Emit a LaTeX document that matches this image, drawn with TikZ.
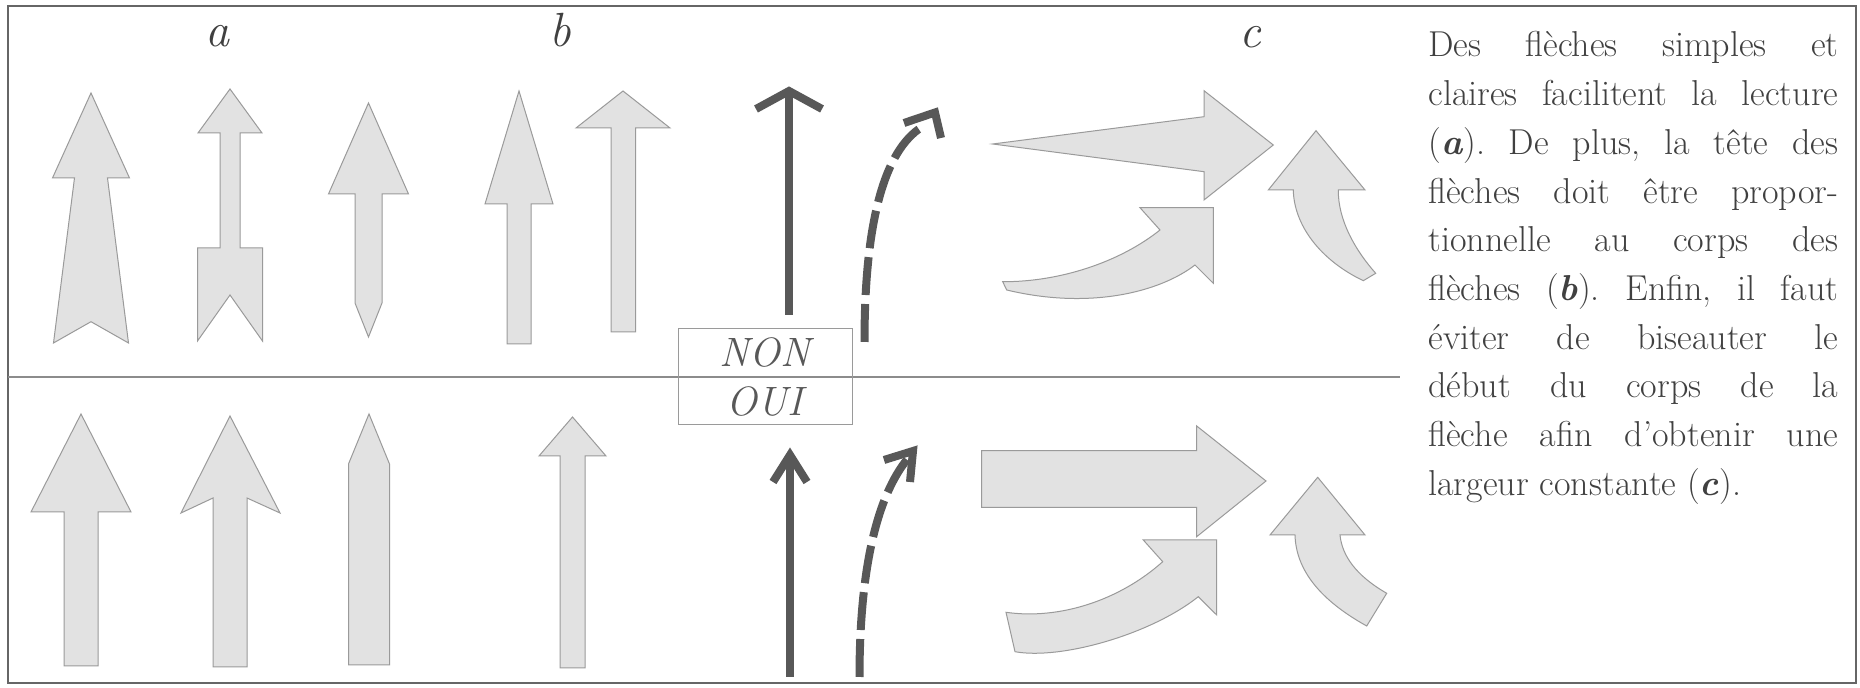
\documentclass[tikz,border=0pt]{standalone}
\usepackage{fontspec}
\definecolor{framegray}{HTML}{666666}
\definecolor{rulegray}{HTML}{8C8C8C}
\definecolor{shapefill}{HTML}{E2E2E2}
\definecolor{shapeline}{HTML}{9A9A9A}
\definecolor{inkdark}{HTML}{585858}
\definecolor{textgray}{HTML}{404040}
\newcommand\mybody{\fontsize{18}{24}\selectfont\frenchspacing}
\newcommand\mylabel{\fontsize{24}{28}\selectfont\itshape}
\newcommand\mytag{\fontsize{20.5}{24}\selectfont\itshape}
\begin{document}
\begin{tikzpicture}[x=0.5pt,y=-0.5pt,
  shp/.style={fill=shapefill,draw=shapeline,line width=0.5pt,line join=miter},
  darkln/.style={draw=inkdark,line width=4pt,line cap=butt},
  darkhead/.style={draw=inkdark,line width=4pt,line cap=butt,line join=miter},
  darkdash/.style={draw=inkdark,line width=4pt,line cap=butt,dash pattern=on 19pt off 4.5pt},
  lab/.style={anchor=base,inner sep=0pt,text=textgray,font=\mylabel},
  tag/.style={anchor=base,inner sep=0pt,text=inkdark,font=\mytag},
  txt/.style={anchor=base west,inner sep=0pt,text=textgray,font=\mybody}]
\useasboundingbox (0,0) rectangle (1860,688);
\fill[white] (0,0) rectangle (1860,688);

% frame and divider
\draw[framegray,line width=1.2pt] (8,6) rectangle (1856,683);
\draw[rulegray,line width=0.6pt] (8,377) -- (1400,377);

% column labels
\node[lab] (la) at (217,47) {a};
\node[lab] (lb) at (560,47) {b};
\node[lab] (lc) at (1250,48) {c};

% NON / OUI box
\node[draw=shapeline,line width=0.5pt,fill=none,minimum width=87pt,minimum height=48pt,inner sep=0pt] (yn) at (765,377) {};
\node[tag] (non) at (765,367) {NON};
\node[tag] (oui) at (765,416) {OUI};

% ---- top row (NON) ----
% a: tapered body, notched tail
\draw[shp] (91,93) -- (129.5,178) -- (107.5,178) -- (128.5,343) -- (91,321.7)
  -- (53.5,343) -- (74.5,178) -- (52.5,178) -- cycle;
% a: feathered tail
\draw[shp] (230,89) -- (262,133) -- (240,133) -- (240,248) -- (262.5,248) -- (262.5,341)
  -- (230,295) -- (197.5,341) -- (197.5,248) -- (220,248) -- (220,133) -- (198,133) -- cycle;
% a: pointed tail
\draw[shp] (368.5,103) -- (408.5,194) -- (382,194) -- (382,303) -- (368.5,337)
  -- (355,303) -- (355,194) -- (328.5,194) -- cycle;
% b: head too long
\draw[shp] (519,91) -- (553,204) -- (531,204) -- (531,344) -- (507,344) -- (507,204)
  -- (485,204) -- cycle;
% b: head too wide
\draw[shp] (623,91) -- (670,128) -- (635.5,128) -- (635.5,332) -- (611,332) -- (611,128)
  -- (576,128) -- cycle;
% straight line arrow, oversized head
\coordinate (s1) at (789,315);
\coordinate (s2) at (789,92);
\draw[darkln] (s1) -- (s2);
\draw[darkhead] (756,109) -- (789,91) -- (822,109);
% dashed curve, misaligned head
\coordinate (d1) at (864.5,342);
\coordinate (d2) at (922,127);
\draw[darkdash] (d1) .. controls (864.5,220) and (885,150) .. (d2);
\draw[darkhead] (904,123) -- (935,112.5) -- (941,138);
% c: bevelled straight arrow
\draw[shp] (992.7,144) -- (1204,116.7) -- (1204,90.7) -- (1273.3,145) -- (1204,200)
  -- (1204,171.7) -- cycle;
% c: bevelled curved arrow
\draw[shp] (1213.3,207.7) -- (1213.3,283.3) -- (1195,265)
  .. controls (1160,292) and (1090,310) .. (1006.7,290)
  -- (1002.7,281.7)
  .. controls (1060,282) and (1120,262) .. (1160,230)
  -- (1140,207.7) -- cycle;
% c: bevelled bent arrow
\draw[shp] (1316,130.7) -- (1365,190) -- (1338.3,190)
  .. controls (1338,220) and (1355,250) .. (1375.7,273.3)
  -- (1363.3,280.7)
  .. controls (1320,260) and (1294,225) .. (1293.3,190)
  -- (1268.3,190) -- cycle;

% ---- bottom row (OUI) ----
\draw[shp] (81,414) -- (131,512) -- (98,512) -- (98,666) -- (64,666) -- (64,512)
  -- (31,512) -- cycle;
\draw[shp] (230,416) -- (280,513) -- (247,498) -- (247,667) -- (213,667) -- (213,498)
  -- (181,513) -- cycle;
\draw[shp] (369,414) -- (389.5,464) -- (389.5,665) -- (348.5,665) -- (348.5,464) -- cycle;
\draw[shp] (572.5,417) -- (606,456) -- (585,456) -- (585,668) -- (560,668) -- (560,456)
  -- (539,456) -- cycle;
% straight line arrow
\coordinate (s3) at (790,677);
\coordinate (s4) at (790,456);
\draw[darkln] (s3) -- (s4);
\draw[darkhead] (773,482) -- (790,455) -- (807,482);
% dashed curve, aligned head
\coordinate (d3) at (859.5,677);
\coordinate (d4) at (910,456);
\draw[darkdash] (d3) .. controls (859.5,560) and (880,490) .. (d4);
\draw[darkhead] (884,460) -- (913,451) -- (910,482);
% c: constant width straight arrow
\draw[shp] (981.7,450.7) -- (1196.7,450.7) -- (1196.7,426) -- (1266,481) -- (1196.7,536.7)
  -- (1196.7,507.3) -- (981.7,507.3) -- cycle;
% c: constant width curved arrow
\draw[shp] (1216.7,540) -- (1216.7,615) -- (1198.3,596.7)
  .. controls (1150,635) and (1060,660) .. (1015,651.7)
  -- (1006,612.3)
  .. controls (1060,620) and (1120,600) .. (1162.7,561.7)
  -- (1143.3,540) -- cycle;
% c: constant width bent arrow
\draw[shp] (1317.7,477.3) -- (1365,535) -- (1340,535)
  .. controls (1342,555) and (1355,575) .. (1386.7,593.3)
  -- (1366.7,626)
  .. controls (1320,600) and (1296,570) .. (1295,535)
  -- (1270,535) -- cycle;

% ---- caption ----
\node[txt] (t1) at (1428,57) {\makebox[205pt][s]{Des flèches simples et}};
\node[txt] (t2) at (1428,105.7) {\makebox[205pt][s]{claires facilitent la lecture}};
\node[txt] (t3) at (1428,154.4) {\makebox[205pt][s]{(\textbf{\textit{a}}). De plus, la tête des}};
\node[txt] (t4) at (1428,203.1) {\makebox[205pt][s]{flèches doit être propor-}};
\node[txt] (t5) at (1428,251.8) {\makebox[205pt][s]{tionnelle au corps des}};
\node[txt] (t6) at (1428,300.5) {\makebox[205pt][s]{flèches (\textbf{\textit{b}}). Enfin, il faut}};
\node[txt] (t7) at (1428,349.2) {\makebox[205pt][s]{éviter de biseauter le}};
\node[txt] (t8) at (1428,397.9) {\makebox[205pt][s]{début du corps de la}};
\node[txt] (t9) at (1428,446.6) {\makebox[205pt][s]{flèche afin d'obtenir une}};
\node[txt] (t10) at (1428,495.3) {largeur constante (\textbf{\textit{c}}).};
\end{tikzpicture}
\end{document}
